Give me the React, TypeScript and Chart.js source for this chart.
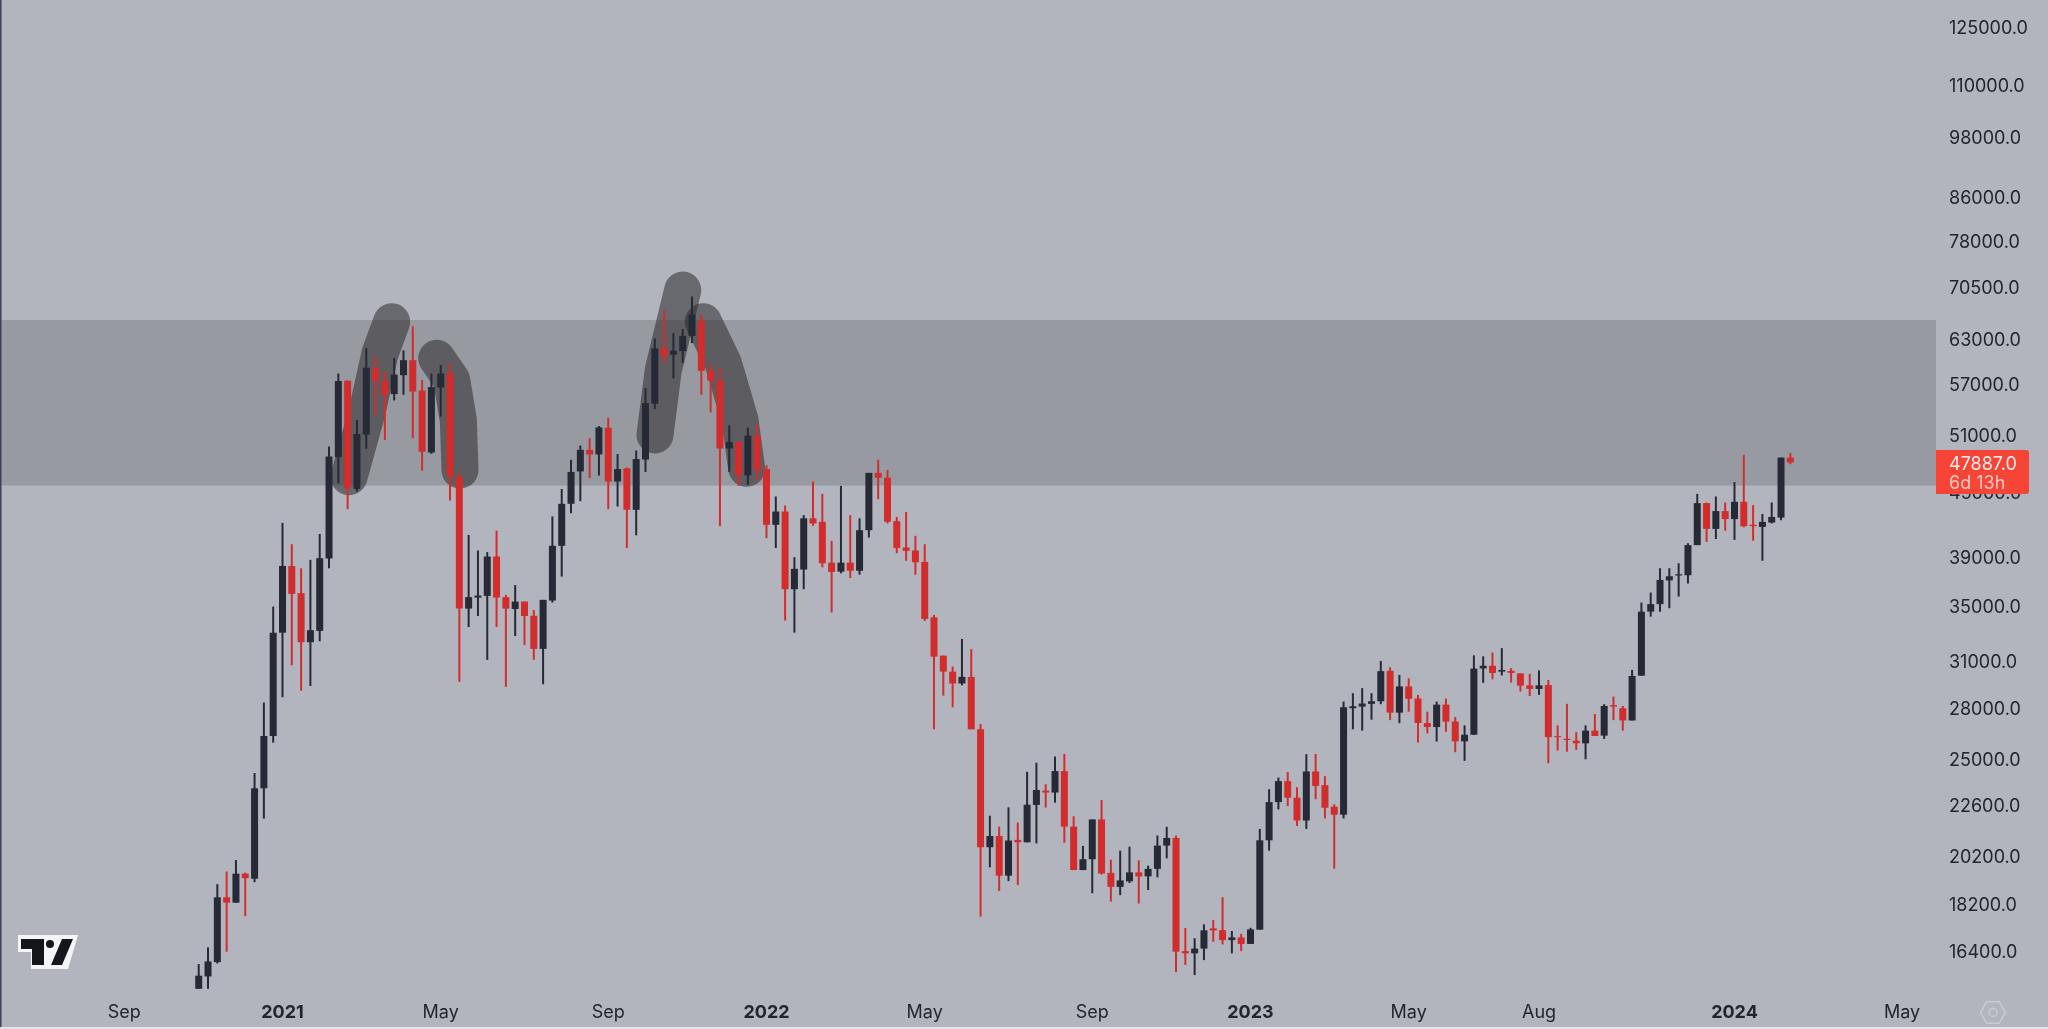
import React, { useEffect, useRef } from "react";
import { Chart, registerables } from "chart.js";

Chart.register(...registerables);

// weekly candles, oldest first
const opens = [
  15060, 15474, 15968, 18414, 18198, 19396, 19179, 23398, 26248, 32937, 38141, 35926, 32256, 33068, 38770, 48447, 57310, 45176, 50903, 58890,
  57310, 55646, 58006, 59952, 56081, 48943, 56460, 58220, 46392, 34729, 35580, 35715, 38940, 35614, 34700, 35270, 34190, 31787, 35350, 39870,
  43725, 46950, 49235, 48730, 51680, 45920, 47270, 43150, 48190, 54480, 61570, 60670, 61170, 63240, 65340, 58610, 57310, 49375, 50100, 46540,
  50780, 47190, 41750, 42990, 36240, 37840, 42350, 42030, 38420, 37670, 38420, 37740, 41260, 46800, 46300, 42090, 39720, 39460, 38480, 34070,
  31320, 30240, 29460, 29890, 26640, 20555, 21070, 19310, 20890, 20780, 22560, 23280, 23180, 24300, 21510, 19550, 20020, 21850, 19430, 18840,
  19070, 19450, 19280, 19600, 20630, 20980, 16360, 16280, 16450, 17200, 17130, 16760, 16860, 16620, 17150, 20870, 22700, 23770, 22920, 21800,
  24280, 23560, 22470, 22080, 27900, 28000, 28170, 28330, 30290, 27630, 29270, 28500, 27010, 26770, 28120, 27100, 25940, 26320, 30450, 30630,
  30240, 30290, 30120, 29340, 29110, 29360, 26240, 26090, 25980, 25830, 26560, 26270, 28090, 27900, 27160, 29970, 34500, 35070, 36950, 37350,
  37370, 39930, 43790, 41380, 43030, 42280, 43920, 41760, 41560, 41960, 42420, 48400,
];
const highs = [
  15900, 16497, 18954, 19485, 19983, 19440, 24197, 28248, 34880, 41930, 40013, 37943, 38657, 40917, 49591, 58220, 57310, 52556, 61572, 60532,
  58434, 60222, 61247, 64600, 57396, 58220, 59317, 59450, 46849, 40830, 39457, 39320, 41215, 35793, 36570, 35270, 34625, 35403, 42530, 45170,
  48160, 49700, 50500, 51870, 52830, 48770, 47340, 49160, 56383, 62879, 66865, 63620, 64200, 68970, 66240, 59480, 58950, 51950, 50100, 51680,
  52120, 47590, 44430, 43560, 38890, 42650, 45920, 44690, 40300, 45480, 42640, 42350, 46800, 48170, 47100, 42480, 42940, 40750, 40010, 34250,
  31320, 30580, 32490, 31770, 26954, 22033, 21507, 22440, 21700, 24260, 24750, 23610, 25090, 25230, 22000, 20615, 21850, 22807, 20000, 20400,
  20580, 19970, 19740, 21090, 21500, 21090, 17210, 16830, 17350, 17520, 18420, 17100, 16990, 17220, 21400, 23350, 23960, 24250, 23450, 25220,
  25230, 24030, 22590, 28310, 28840, 29160, 28840, 30960, 30530, 30020, 29800, 28730, 27690, 28310, 28500, 27370, 26870, 31340, 31270, 31530,
  31840, 30470, 30120, 30090, 30320, 29690, 26870, 28170, 26470, 26870, 27550, 28150, 28620, 28040, 30350, 35190, 35975, 37950, 37950, 38370,
  40100, 44690, 43850, 44430, 43850, 45860, 48690, 43600, 42760, 43850, 48400, 48900,
];
const lows = [
  15060, 15060, 15921, 16339, 18198, 17666, 19035, 21892, 25866, 28584, 30661, 28996, 29297, 32326, 37943, 45729, 43216, 44914, 49343, 53072,
  50315, 54872, 55561, 50510, 47020, 48803, 52952, 44041, 29568, 33350, 34170, 31027, 33350, 29240, 32700, 32060, 31030, 29410, 35195, 37260,
  42830, 43980, 46266, 46530, 43216, 43466, 39670, 40800, 46900, 53840, 59490, 57603, 59600, 62250, 55560, 53440, 41629, 46900, 45475, 45580,
  46000, 40540, 39670, 33830, 32940, 36240, 41650, 38030, 34440, 37530, 37140, 37420, 40600, 44170, 41880, 39230, 38580, 37410, 33800, 26640,
  28685, 27960, 29340, 26640, 17646, 19670, 18670, 19080, 18920, 20780, 20730, 22430, 22670, 20760, 19550, 19550, 18580, 19360, 18240, 18500,
  19000, 18170, 18710, 19240, 20060, 15620, 15870, 15520, 16040, 16700, 16600, 16280, 16360, 16620, 17150, 20400, 22340, 22500, 21540, 21400,
  22840, 21900, 19610, 21900, 26640, 26560, 27210, 28150, 27180, 27000, 27690, 25870, 26400, 25930, 26490, 25330, 24850, 26320, 29500, 29730,
  29980, 29520, 28940, 28660, 28730, 24720, 25420, 25360, 25457, 24940, 26250, 26080, 27180, 26560, 27160, 29970, 34120, 34490, 34760, 35660,
  36700, 39930, 40210, 40470, 41220, 40390, 41520, 40320, 38580, 41880, 42170, 47700,
];
const closes = [
  15500, 15993, 18414, 18198, 19396, 19205, 23398, 26248, 32937, 38141, 35871, 32256, 33117, 38799, 48511, 57274, 45244, 50979, 58970, 57274,
  55561, 58086, 59952, 55960, 49019, 56505, 58220, 46392, 34729, 35614, 35740, 38940, 35583, 34729, 35270, 34170, 31787, 35403, 39870, 43725,
  46900, 49235, 48730, 51720, 45920, 47190, 43150, 48240, 54560, 61520, 60440, 61210, 63240, 66240, 58560, 57310, 49375, 50100, 46540, 50780,
  47100, 41750, 42990, 36240, 37900, 42350, 41880, 38370, 37640, 38420, 37740, 41260, 46800, 46300, 42030, 39670, 39430, 38450, 33950, 31250,
  30240, 29460, 29890, 26640, 20555, 21070, 19310, 20860, 20780, 22570, 23310, 23180, 24300, 21510, 19550, 20020, 21850, 19400, 18840, 19110,
  19450, 19280, 19600, 20630, 20980, 16340, 16280, 16450, 17125, 17120, 16760, 16860, 16620, 17160, 20870, 22700, 23770, 22920, 21800, 24280,
  23520, 22420, 22080, 27960, 28020, 28190, 28330, 30270, 27630, 29270, 28480, 27010, 26770, 28120, 27090, 25940, 26320, 30440, 30630, 30150,
  30350, 30150, 29320, 29110, 29340, 26180, 26180, 26020, 25830, 26560, 26250, 28040, 28000, 27160, 29950, 34500, 35070, 36990, 37290, 37450,
  39930, 43790, 41380, 43030, 42280, 43920, 41620, 41630, 42020, 42480, 48400, 47887,
];

// price scale labels; 45000 sits behind the price tag
const priceTicks = [125000, 110000, 98000, 86000, 78000, 70500, 63000, 57000, 51000, 45000, 39000, 35000, 31000, 28000, 25000, 22600, 20200, 18200, 16400];

// time axis, positions are candle numbers (counted from the first candle)
const timeTickBars = [-8, 9, 26, 44, 61, 78, 96, 113, 130, 144, 165, 183];
const timeTickLabels = ["Sep", "2021", "May", "Sep", "2022", "May", "Sep", "2023", "May", "Aug", "2024", "May"];

// grey zone
const zoneTop = 65490;
const zoneBottom = 45520;

// marker strokes, [candle number, price]
const markerStrokes: number[][][] = [
  [[16.15, 46410], [18.05, 53350], [19.48, 60870], [20.73, 65240]],
  [[25.57, 60210], [27.18, 57400], [27.89, 52570], [28.07, 47095]],
  [[49.02, 50865], [49.91, 58670], [52, 69950]],
  [[54.21, 65240], [56.36, 59550], [58.15, 52570], [58.87, 47280]],
];

const lastPrice = "47887.0";
const countdown = "6d 13h";

const UP = "#262a36";
const DOWN = "#d32c2c";
const BG = "#b2b5be";
const TEXT = "#23252e";
const FONT = "Inter";

const candleColors = closes.map((c, i) => (c >= opens[i] ? UP : DOWN));

const drawings = {
  id: "drawings",
  beforeDatasetsDraw(chart: any) {
    const { ctx, chartArea, scales } = chart;
    const { x, y } = scales;
    ctx.save();

    // zone
    const top = y.getPixelForValue(zoneTop);
    const bottom = y.getPixelForValue(zoneBottom);
    ctx.fillStyle = "#989aa1";
    ctx.fillRect(chartArea.left, top, chartArea.right - chartArea.left, bottom - top);

    // hand drawn markers
    ctx.strokeStyle = "rgba(40,40,42,0.54)";
    ctx.lineWidth = 37;
    ctx.lineCap = "round";
    ctx.lineJoin = "round";
    markerStrokes.forEach((pts) => {
      ctx.beginPath();
      pts.forEach(([bar, price]) => ctx.lineTo(x.getPixelForValue(bar), y.getPixelForValue(price)));
      ctx.stroke();
    });
    ctx.restore();
  },
  afterDraw(chart: any) {
    const { ctx, chartArea, scales, width, height } = chart;
    const { y } = scales;
    ctx.save();

    // price tag covers the axis label under it
    const tagY = y.getPixelForValue(Number(lastPrice)) - 12.5;
    ctx.fillStyle = "#f64437";
    ctx.beginPath();
    ctx.roundRect(chartArea.right, tagY, 93, 44, [0, 3, 3, 0]);
    ctx.fill();
    ctx.textAlign = "left";
    ctx.textBaseline = "middle";
    ctx.font = `18px ${FONT}`;
    ctx.fillStyle = "#fdf0ee";
    ctx.fillText(lastPrice, chartArea.right + 13, tagY + 14.5);
    ctx.fillStyle = "#fbc9c4";
    ctx.fillText(countdown, chartArea.right + 13, tagY + 34);

    // tradingview logo
    ctx.fillStyle = "#f4f5f7";
    ctx.beginPath();
    [[18, 935], [78, 935], [68, 969], [31, 969], [31, 952], [18, 952]].forEach(([a, b]) => ctx.lineTo(a, b));
    ctx.closePath();
    ctx.fill();
    ctx.fillStyle = "#14161c";
    ctx.beginPath();
    [[21, 939], [44, 939], [44, 965], [32, 965], [32, 949], [21, 949]].forEach(([a, b]) => ctx.lineTo(a, b));
    ctx.closePath();
    ctx.fill();
    ctx.beginPath();
    [[62, 939], [73, 939], [62, 965], [51, 965]].forEach(([a, b]) => ctx.lineTo(a, b));
    ctx.closePath();
    ctx.fill();
    ctx.beginPath();
    ctx.arc(50, 944, 4, 0, Math.PI * 2);
    ctx.fill();

    // settings hexagon
    ctx.strokeStyle = "#c9ccd3";
    ctx.lineWidth = 1.5;
    ctx.beginPath();
    for (let i = 0; i < 6; i++) {
      const a = (Math.PI / 3) * i;
      ctx.lineTo(1993 + 12.5 * Math.cos(a), 1012.5 + 12.5 * Math.sin(a));
    }
    ctx.closePath();
    ctx.stroke();
    ctx.beginPath();
    ctx.arc(1993, 1012.5, 4, 0, Math.PI * 2);
    ctx.stroke();

    // screenshot edges
    ctx.fillStyle = "#3f4159";
    ctx.fillRect(0, 0, 1.5, height);
    ctx.fillStyle = "#e2e3e7";
    ctx.fillRect(0, height - 2, width, 2);
    ctx.restore();
  },
};

export default function App() {
  const canvasRef = useRef<HTMLCanvasElement | null>(null);

  useEffect(() => {
    if (!canvasRef.current) return;
    const chart = new Chart(canvasRef.current, {
      type: "bar",
      data: {
        datasets: [
          {
            // bodies
            data: opens.map((o, i) => ({ x: i, y: [o, closes[i]] })),
            backgroundColor: candleColors,
            barThickness: 7,
            grouped: false,
            borderWidth: 0,
            inflateAmount: 0,
          },
          {
            // wicks
            data: lows.map((l, i) => ({ x: i, y: [l, highs[i]] })),
            backgroundColor: candleColors,
            barThickness: 2,
            grouped: false,
            borderWidth: 0,
            inflateAmount: 0,
          },
        ] as any,
      },
      options: {
        animation: false,
        responsive: false,
        devicePixelRatio: 1,
        layout: { padding: 0 },
        plugins: { legend: { display: false }, tooltip: { enabled: false } },
        scales: {
          x: {
            type: "linear",
            offset: false,
            min: -21.35,
            max: 186.65,
            grid: { display: false, drawTicks: false },
            border: { display: false },
            afterBuildTicks: (scale: any) => {
              scale.ticks = timeTickBars.map((value) => ({ value }));
            },
            afterFit: (scale: any) => {
              scale.height = 36;
              scale.paddingLeft = 0;
              scale.paddingRight = 0;
            },
            ticks: {
              autoSkip: false,
              maxRotation: 0,
              padding: 9,
              color: TEXT,
              font: (ctx: any) => ({
                family: FONT,
                size: 18,
                weight: /^\d/.test(String(timeTickLabels[ctx.index])) ? "bold" : "normal",
              }),
              callback: (_v: any, i: number) => timeTickLabels[i],
            },
          },
          y: {
            type: "logarithmic",
            position: "right",
            min: 14921,
            max: 132310,
            grid: { display: false, drawTicks: false },
            border: { display: false },
            afterBuildTicks: (scale: any) => {
              scale.ticks = priceTicks.map((value) => ({ value }));
            },
            afterFit: (scale: any) => {
              scale.width = 112;
              scale.paddingTop = 0;
              scale.paddingBottom = 0;
            },
            ticks: {
              autoSkip: false,
              padding: 13,
              labelOffset: 2.5,
              color: TEXT,
              font: { family: FONT, size: 18 },
              callback: (v: any) => Number(v).toFixed(1),
            },
          },
        },
      },
      plugins: [drawings],
    });
    return () => chart.destroy();
  }, []);

  return (
    <div style={{ position: "fixed", inset: 0, background: BG }}>
      <canvas ref={canvasRef} width={2048} height={1029} style={{ display: "block" }} />
    </div>
  );
}
